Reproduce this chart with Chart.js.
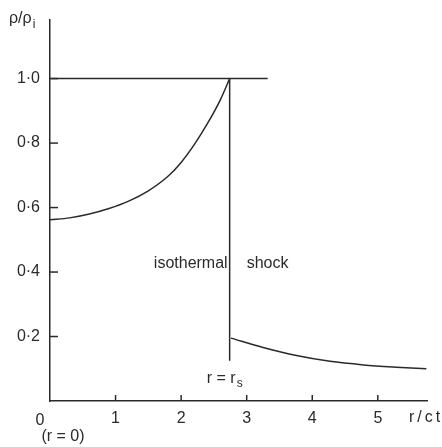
<!DOCTYPE html>
<html>
<head>
<meta charset="utf-8">
<script src="https://cdn.jsdelivr.net/npm/chart.js@4"></script>
<style>
  html, body { margin: 0; padding: 0; background: #fff; }
  canvas { display: block; }
</style>
</head>
<body>
<canvas id="density-chart" width="442" height="447"></canvas>
<script>
// values
const xTicks = [0, 1, 2, 3, 4, 5];
const yTicks = [0.2, 0.4, 0.6, 0.8, 1.0];

// inner region, r < r_s
const innerX = [0, 0.3, 0.6, 0.9, 1.2, 1.5, 1.8, 2.0, 2.2, 2.4, 2.6, 2.74];
const innerY = [0.562, 0.568, 0.58, 0.597, 0.62, 0.652, 0.697, 0.74, 0.795, 0.86, 0.935, 1.0];

// outer region, r > r_s
const outerX = [2.76, 3.25, 3.76, 4.27, 4.78, 5.28, 5.74];
const outerY = [0.195, 0.166, 0.141, 0.123, 0.112, 0.105, 0.1];

const shockX = 2.74;
const shockY = [1.0, 0.125];
const refLineX = [0, 3.32];
const refLineY = 1.0;

const ink = "#2a2a2a";
const fontFamily = "'Liberation Sans', Arial, sans-serif";

function pts(xs, ys) {
  return xs.map((x, i) => ({ x: x, y: ys[i] }));
}

function lineSet(data, smooth) {
  return {
    data: data,
    showLine: true,
    borderColor: ink,
    borderWidth: 1.5,
    pointRadius: 0,
    fill: false,
    cubicInterpolationMode: smooth ? "monotone" : "default",
    tension: 0
  };
}

// inward tick marks + free text on the plot
const decorations = {
  id: "decorations",
  afterDraw(chart) {
    const ctx = chart.ctx;
    const xs = chart.scales.x;
    const ys = chart.scales.y;
    const left = chart.chartArea.left;
    const bottom = chart.chartArea.bottom;

    ctx.save();
    ctx.strokeStyle = ink;
    ctx.lineWidth = 1.5;
    yTicks.forEach(v => {
      const py = ys.getPixelForValue(v);
      ctx.beginPath();
      ctx.moveTo(left, py);
      ctx.lineTo(left + 8, py);
      ctx.stroke();
    });
    xTicks.slice(1).forEach(v => {
      const px = xs.getPixelForValue(v);
      ctx.beginPath();
      ctx.moveTo(px, bottom);
      ctx.lineTo(px, bottom - 6);
      ctx.stroke();
    });

    ctx.fillStyle = ink;
    ctx.font = "16px " + fontFamily;

    // the origin label sits left of the axis in the original
    ctx.textAlign = "center";
    ctx.textBaseline = "top";
    ctx.fillText("0", xs.getPixelForValue(0) - 10, bottom + 12);

    ctx.textBaseline = "middle";

    // y axis title  ρ/ρi
    ctx.textAlign = "left";
    ctx.fillText("ρ/ρ", 9, 19);
    const w = ctx.measureText("ρ/ρ").width;
    ctx.font = "12px " + fontFamily;
    ctx.fillText("i", 9 + w + 1, 25);

    // x axis title
    ctx.font = "16px " + fontFamily;
    ctx.letterSpacing = "3px";
    ctx.fillText("r/ct", 409, bottom + 17);
    ctx.letterSpacing = "0px";
    ctx.textAlign = "center";
    ctx.fillText("(r = 0)", xs.getPixelForValue(0) + 13, 437);

    // shock labels
    const sx = xs.getPixelForValue(shockX);
    ctx.textAlign = "right";
    ctx.fillText("isothermal", sx - 2, ys.getPixelForValue(0.425));
    ctx.textAlign = "left";
    ctx.fillText("shock", sx + 17, ys.getPixelForValue(0.425));

    ctx.textAlign = "right";
    ctx.fillText("r = r", sx + 6, 379);
    ctx.font = "12px " + fontFamily;
    ctx.textAlign = "left";
    ctx.fillText("s", sx + 7, 384);
    ctx.restore();
  }
};

new Chart(document.getElementById("density-chart"), {
  type: "scatter",
  data: {
    datasets: [
      lineSet(pts(refLineX, [refLineY, refLineY]), false),
      lineSet(pts(innerX, innerY), true),
      lineSet(pts([shockX, shockX], shockY), false),
      lineSet(pts(outerX, outerY), true)
    ]
  },
  options: {
    responsive: false,
    animation: false,
    layout: { padding: { top: 14, right: 15, left: 0, bottom: 0 } },
    plugins: {
      legend: { display: false },
      tooltip: { enabled: false }
    },
    scales: {
      x: {
        type: "linear",
        min: 0,
        max: 5.75,
        afterBuildTicks: s => { s.ticks = xTicks.map(v => ({ value: v })); },
        afterFit: s => { s.height = 46; },
        grid: { display: false, drawTicks: false },
        border: { display: true, color: ink, width: 1.5 },
        ticks: {
          color: ink,
          padding: 8,
          maxRotation: 0,
          font: { size: 16, family: fontFamily },
          callback: v => (v === 0 ? "" : String(v))
        }
      },
      y: {
        type: "linear",
        min: 0,
        max: 1.183,
        afterBuildTicks: s => { s.ticks = yTicks.map(v => ({ value: v })); },
        afterFit: s => { s.width = 50; },
        grid: { display: false, drawTicks: false },
        border: { display: true, color: ink, width: 1.5 },
        ticks: {
          color: ink,
          padding: 10,
          font: { size: 16, family: fontFamily },
          callback: v => v.toFixed(1).replace(".", "·")
        }
      }
    }
  },
  plugins: [decorations]
});
</script>
</body>
</html>
